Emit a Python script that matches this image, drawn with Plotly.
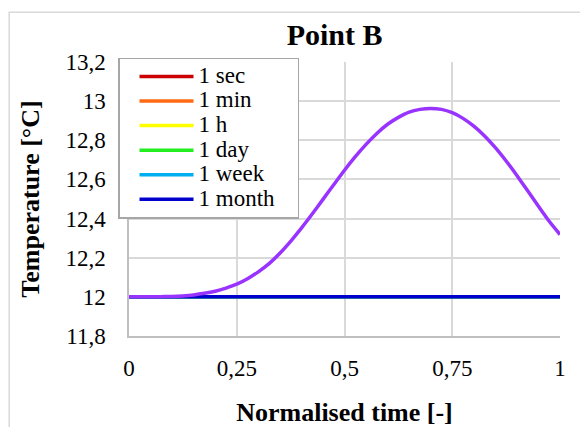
import plotly.graph_objects as go

# ---- data ----
t = [0.0, 0.025, 0.05, 0.075, 0.10, 0.125, 0.15, 0.175, 0.20, 0.225,
     0.25, 0.275, 0.30, 0.325, 0.35, 0.375, 0.40, 0.425, 0.45, 0.475,
     0.50, 0.525, 0.55, 0.575, 0.60, 0.625, 0.65, 0.675, 0.70, 0.725,
     0.75, 0.775, 0.80, 0.825, 0.85, 0.875, 0.90, 0.925, 0.95, 0.975, 1.0]
temp_1year = [12.0, 12.0, 12.0, 12.001, 12.002, 12.005, 12.01, 12.018, 12.029, 12.045,
              12.065, 12.093, 12.128, 12.170, 12.223, 12.284, 12.351, 12.423, 12.498, 12.573,
              12.647, 12.716, 12.779, 12.835, 12.882, 12.917, 12.944, 12.958, 12.963, 12.958,
              12.941, 12.912, 12.872, 12.822, 12.762, 12.694, 12.62, 12.542, 12.463, 12.386, 12.318]

t_flat = [0.0, 0.1, 0.2, 0.3, 0.4, 0.5, 0.6, 0.7, 0.8, 0.9, 1.0]
temp_1sec   = [12.0, 12.0, 12.0, 12.0, 12.0, 12.0, 12.0, 12.0, 12.0, 12.0, 12.0]
temp_1min   = [12.0, 12.0, 12.0, 12.0, 12.0, 12.0, 12.0, 12.0, 12.0, 12.0, 12.0]
temp_1h     = [12.0, 12.0, 12.0, 12.0, 12.0, 12.0, 12.0, 12.0, 12.0, 12.0, 12.0]
temp_1day   = [12.0, 12.0, 12.0, 12.0, 12.0, 12.0, 12.0, 12.0, 12.0, 12.0, 12.0]
temp_1week  = [12.0, 12.0, 12.0, 12.0, 12.0, 12.0, 12.0, 12.0, 12.0, 12.0, 12.0]
temp_1month = [12.0, 12.0, 12.0, 12.0, 12.0, 12.0, 12.0, 12.0, 12.0, 12.0, 12.0]

series_names  = ["1 sec", "1 min", "1 h", "1 day", "1 week", "1 month"]
series_values = [temp_1sec, temp_1min, temp_1h, temp_1day, temp_1week, temp_1month]
series_colors = ["#CC0000", "#FF6A13", "#FFFF00", "#22EE22", "#00B0F0", "#0000CC"]

x_ticks = [0, 0.25, 0.5, 0.75, 1]
x_tick_labels = ["0", "0,25", "0,5", "0,75", "1"]
y_ticks = [11.8, 12.0, 12.2, 12.4, 12.6, 12.8, 13.0, 13.2]
y_tick_labels = ["11,8", "12", "12,2", "12,4", "12,6", "12,8", "13", "13,2"]

FONT = "Liberation Serif"

fig = go.Figure()
for name, vals, col in zip(series_names, series_values, series_colors):
    fig.add_trace(go.Scatter(
        x=t_flat, y=vals, mode="lines",
        name=f"<span style='font-size:23px'>{name}&nbsp;&nbsp;&nbsp;</span>",
        line=dict(color=col, width=3.5)))
fig.add_trace(go.Scatter(
    x=t, y=temp_1year, mode="lines", name="1 year", showlegend=False,
    line=dict(color="#9933FF", width=3.5, shape="spline", smoothing=0.6)))

fig.update_layout(
    width=580, height=427,
    margin=dict(l=129, r=20, t=62, b=91),
    paper_bgcolor="white", plot_bgcolor="white",
    font=dict(family=FONT, size=23, color="black"),
    title=dict(text="<b>Point B</b>", font=dict(family=FONT, size=30, color="black"),
               x=0.477, xref="paper", xanchor="center",
               y=1 - 34 / 427, yref="container", yanchor="middle"),
    showlegend=True,
    legend=dict(x=-0.0255, y=1.016, xanchor="left", yanchor="top",
                bgcolor="white", bordercolor="#A6A6A6", borderwidth=1.5,
                font=dict(family=FONT, size=16.6, color="black"),
                itemwidth=54, indentation=15,
                traceorder="normal", tracegroupgap=0),
    shapes=[dict(type="rect", xref="paper", yref="paper",
                 x0=-0.278, x1=1.2, y0=-0.5, y1=1.182,
                 line=dict(color="#D9D9D9", width=1.5), fillcolor="rgba(0,0,0,0)",
                 layer="below")],
)
fig.update_xaxes(
    range=[0, 1], tickvals=x_ticks, ticktext=x_tick_labels,
    showgrid=True, gridcolor="#D9D9D9", gridwidth=1.5,
    showline=True, linecolor="#BFBFBF", linewidth=1.5,
    zeroline=False, ticks="", ticklabelstandoff=11,
    tickfont=dict(family=FONT, size=23, color="black"),
    title=dict(text="<b>Normalised time [-]</b>", font=dict(family=FONT, size=26, color="black"), standoff=22),
    automargin=False)
fig.update_yaxes(
    range=[11.8, 13.2], tickvals=y_ticks, ticktext=y_tick_labels,
    showgrid=True, gridcolor="#D9D9D9", gridwidth=1.5,
    showline=True, linecolor="#BFBFBF", linewidth=1.5,
    zeroline=False, ticks="", ticklabelstandoff=17,
    tickfont=dict(family=FONT, size=23, color="black"),
    title=dict(text="<b>Temperature [°C]</b>", font=dict(family=FONT, size=26, color="black"), standoff=18),
    automargin=False)

fig.write_html("out.html", config={"displayModeBar": False},
               post_script="document.body.style.margin='0';")
